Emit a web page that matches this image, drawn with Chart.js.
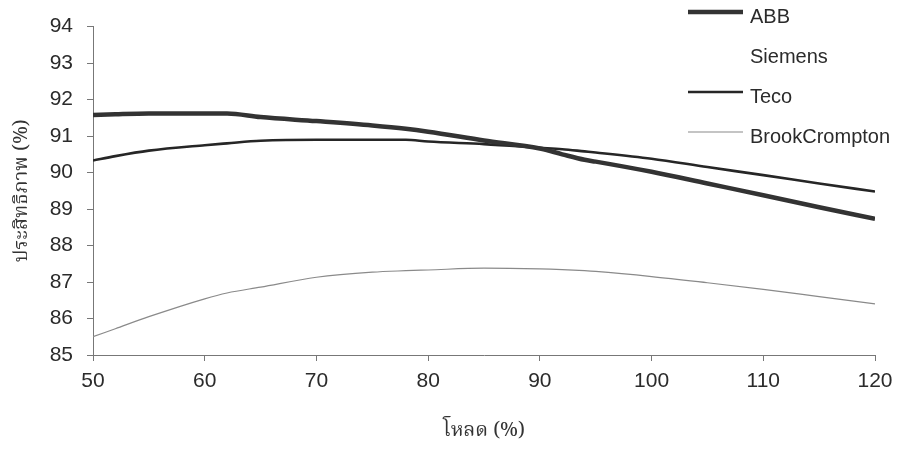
<!DOCTYPE html>
<html>
<head>
<meta charset="utf-8">
<script src="https://cdn.jsdelivr.net/npm/chart.js@4/dist/chart.umd.min.js"></script>
<style>
  html, body { margin: 0; padding: 0; background: #fff; }
  #wrap { width: 901px; height: 457px; position: relative; }
</style>
</head>
<body>
<div id="wrap"><canvas id="eff-chart"></canvas></div>
<script>
const load = [50, 52, 55, 60, 62, 65, 70, 75, 78, 80, 85, 90, 92, 94, 95, 100, 105, 110, 115, 120];

const abb = [91.58, 91.6, 91.62, 91.62, 91.62, 91.52, 91.41, 91.29, 91.2, 91.12, 90.88, 90.66, 90.5, 90.35, 90.3, 90.02, 89.7, 89.38, 89.05, 88.73];
const siemens = [];
const teco = [90.33, 90.45, 90.6, 90.75, 90.8, 90.87, 90.9, 90.9, 90.9, 90.85, 90.78, 90.68, 90.64, 90.58, 90.55, 90.38, 90.15, 89.93, 89.7, 89.48];
const brookCrompton = [85.5, 85.72, 86.05, 86.54, 86.7, 86.86, 87.13, 87.27, 87.31, 87.33, 87.38, 87.36, 87.34, 87.31, 87.29, 87.15, 86.98, 86.8, 86.6, 86.4];

const xTicks = [50, 60, 70, 80, 90, 100, 110, 120];
const yTicks = [85, 86, 87, 88, 89, 90, 91, 92, 93, 94];

const toPoints = (values) => values.map((v, i) => ({ x: load[i], y: v }));

const latin = "'Liberation Sans', Arial, sans-serif";
const thai = "'Noto Serif Thai', 'Noto Sans Thai', Garuda, Loma, 'Liberation Serif', serif";

// legend drawn over the top-right corner of the plot
const cornerLegend = {
  id: "cornerLegend",
  afterDraw(chart) {
    const ctx = chart.ctx;
    ctx.save();
    ctx.font = "20px " + latin;
    ctx.fillStyle = "#2b2b2b";
    ctx.textBaseline = "alphabetic";
    chart.data.datasets.forEach((ds, i) => {
      const y = 12 + i * 40;
      ctx.strokeStyle = ds.borderColor;
      ctx.lineWidth = ds.borderWidth;
      ctx.beginPath();
      ctx.moveTo(688, y);
      ctx.lineTo(743, y);
      ctx.stroke();
      ctx.fillText(ds.label, 750, y + 10.5);
    });
    ctx.restore();
  },
};

new Chart(document.getElementById("eff-chart"), {
  type: "line",
  data: {
    datasets: [
      {
        label: "ABB",
        data: toPoints(abb),
        borderColor: "#333333",
        borderWidth: 4.5,
      },
      {
        label: "Siemens",
        data: siemens,
        borderColor: "#ffffff",
        borderWidth: 2,
      },
      {
        label: "Teco",
        data: toPoints(teco),
        borderColor: "#262626",
        borderWidth: 2.6,
      },
      {
        label: "BrookCrompton",
        data: toPoints(brookCrompton),
        borderColor: "#8a8a8a",
        borderWidth: 1.2,
      },
    ],
  },
  options: {
    responsive: true,
    maintainAspectRatio: false,
    animation: false,
    elements: {
      point: { radius: 0 },
      line: { tension: 0.3, cubicInterpolationMode: "monotone" },
    },
    layout: { padding: { top: 22, right: 26, left: 0, bottom: 0 } },
    plugins: {
      legend: { display: false },
      tooltip: { enabled: false },
    },
    scales: {
      x: {
        type: "linear",
        min: 50,
        max: 120,
        afterBuildTicks: (scale) => {
          scale.ticks = xTicks.map((v) => ({ value: v }));
        },
        afterFit: (scale) => {
          scale.height = 102;
        },
        grid: { drawOnChartArea: false, tickLength: 6, color: "#777" },
        border: { color: "#777", width: 1 },
        ticks: {
          padding: 8,
          color: "#2b2b2b",
          font: { family: latin, size: 21 },
        },
        title: {
          display: true,
          text: "โหลด (%)",
          color: "#333",
          padding: { top: 0, bottom: 12 },
          font: { family: thai, size: 20 },
        },
      },
      y: {
        min: 85,
        max: 94,
        afterBuildTicks: (scale) => {
          scale.ticks = yTicks.map((v) => ({ value: v }));
        },
        afterFit: (scale) => {
          scale.width = 93;
        },
        grid: { drawOnChartArea: false, tickLength: 6, color: "#777" },
        border: { color: "#777", width: 1 },
        ticks: {
          padding: 14,
          color: "#2b2b2b",
          font: { family: latin, size: 21 },
        },
        title: {
          display: true,
          text: "ประสิทธิภาพ (%)",
          color: "#333",
          padding: { top: 12, bottom: 0 },
          font: { family: thai, size: 20 },
        },
      },
    },
  },
  plugins: [cornerLegend],
});
</script>
</body>
</html>
